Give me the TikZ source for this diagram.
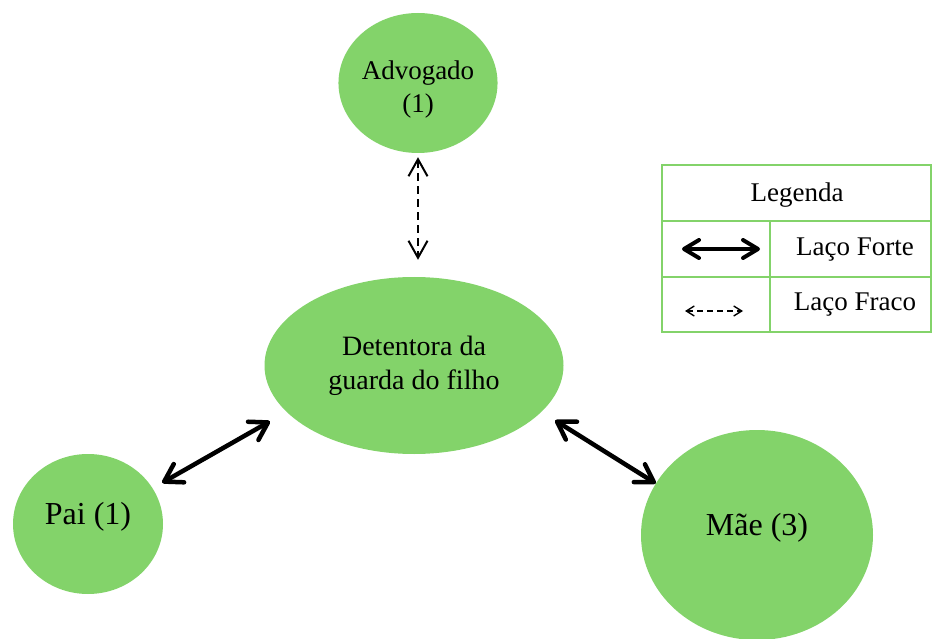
\documentclass[tikz,border=0pt]{standalone}
\usepackage{fontspec}
\setmainfont{Liberation Serif}
\usetikzlibrary{shapes.geometric,arrows.meta}

\definecolor{verde}{RGB}{131,211,106}
\tikzset{
  pessoa/.style={ellipse, fill=verde, inner sep=0pt, align=center},
  baixo/.style={text depth=21pt},
  forte/.style={line width=4.5pt,
    {Straight Barb[length=17pt,width=21pt,round]}-{Straight Barb[length=17pt,width=21pt,round]}},
  fraco/.style={line width=2pt, dash pattern=on 8pt off 5pt,
    {Straight Barb[length=17pt,width=19pt]}-{Straight Barb[length=17pt,width=19pt]}},
  grade/.style={draw=verde, line width=2pt},
}

\begin{document}
\begin{tikzpicture}[x=1pt,y=-1pt]
\useasboundingbox (0,0) rectangle (932,639);
% Nodes
% rede de apoio
\node[pessoa, minimum width=299pt, minimum height=177pt,
  font=\fontsize{28}{34}\selectfont](det) at (414,365.5) {Detentora da\\guarda do filho};
\node[pessoa, minimum width=150pt, minimum height=140pt, text height=64pt,
  font=\fontsize{27}{33}\selectfont](adv) at (418,83) {Advogado\\(1)};
\node[pessoa, baixo, minimum width=150pt, minimum height=140pt,
  font=\fontsize{32}{38}\selectfont](pai) at (88,524) {Pai (1)};
\node[pessoa, baixo, minimum width=232pt, minimum height=210pt,
  font=\fontsize{32}{38}\selectfont](mae) at (757,535) {Mãe (3)};

\draw[fraco, shorten <=4pt, shorten >=17pt] (adv.south) -- (adv.south |- det.north);
\draw[forte, shorten <=11pt, shorten >=19pt] (pai.29) -- (det.200);
\draw[forte, shorten <=16pt] (det.340) -- (mae.153);

% legenda
\draw[grade] (662,165) rectangle (931,332);
\draw[grade] (662,221) -- (931,221);
\draw[grade] (662,277) -- (931,277);
\draw[grade] (770,221) -- (770,332);

\node[font=\fontsize{27}{33}\selectfont](leg) at (797,195) {Legenda};
\node[font=\fontsize{27}{33}\selectfont](lforte) at (855,250) {Laço Forte};
\node[font=\fontsize{27}{33}\selectfont](lfraco) at (855,305) {Laço Fraco};

\coordinate (fa) at (682,249);
\coordinate (fb) at (760,249);
\coordinate (ra) at (685,311);
\coordinate (rb) at (743,311);
\draw[line width=4pt,
  {Straight Barb[length=15pt,width=18pt,round]}-{Straight Barb[length=15pt,width=18pt,round]}] (fa) -- (fb);
\draw[line width=1.4pt, dash pattern=on 6pt off 4pt,
  {Straight Barb[length=8pt,width=10pt]}-{Straight Barb[length=8pt,width=10pt]}] (ra) -- (rb);

\end{tikzpicture}
\end{document}
